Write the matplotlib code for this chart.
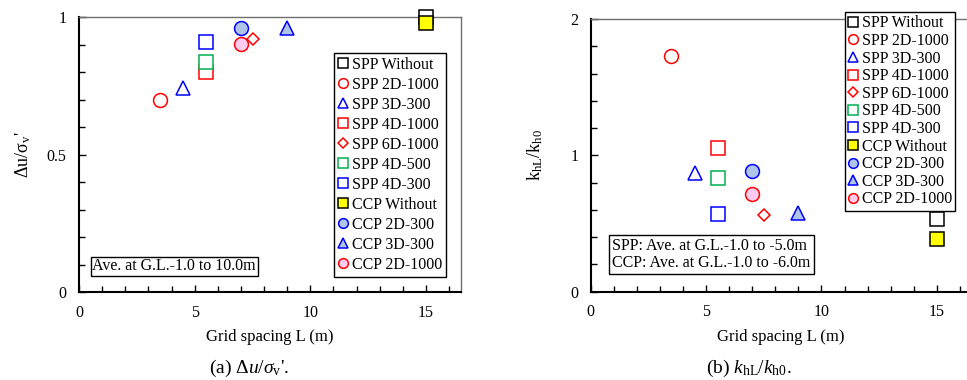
import numpy as np
import matplotlib
matplotlib.use("Agg")
import matplotlib.pyplot as plt
from matplotlib.ticker import MultipleLocator, FormatStrFormatter

plt.rcParams['font.family'] = ['Liberation Serif', 'DejaVu Serif']
plt.rcParams['mathtext.fontset'] = 'custom'
plt.rcParams['mathtext.rm'] = 'Liberation Serif'
plt.rcParams['mathtext.it'] = 'Liberation Serif:italic'
plt.rcParams['mathtext.bf'] = 'Liberation Serif:bold'

# series labels
labels = ["SPP Without", "SPP 2D-1000", "SPP 3D-300", "SPP 4D-1000", "SPP 6D-1000",
          "SPP 4D-500", "SPP 4D-300", "CCP Without", "CCP 2D-300", "CCP 3D-300",
          "CCP 2D-1000"]

# grid spacing L (m)
grid_L = [15, 3.5, 4.5, 5.5, 7.5, 5.5, 5.5, 15, 7, 9, 7]

# (a) du / sigma_v'
du_ratio = [1.00, 0.70, 0.742, 0.80, 0.921, 0.836, 0.91, 0.978, 0.961, 0.96, 0.902]

# (b) khL / kh0
k_ratio = [0.533, 1.73, 0.868, 1.052, 0.563, 0.836, 0.568, 0.387, 0.885, 0.575, 0.714]

# marker styles
markers = ['s', 'o', '^', 's', 'D', 's', 's', 's', 'o', '^', 'o']
edges = ['black', 'red', 'blue', 'red', 'red', '#00b050', 'blue', 'black', 'blue', 'blue', 'red']
faces = ['white', 'white', 'white', 'white', 'white', 'white', 'white', '#ffff00',
         '#b0c4e8', '#b0c4e8', '#ffccf0']
sizes = [10, 10, 10, 10, 6.6, 10, 10, 10, 10, 10, 10]

fig = plt.figure(figsize=(9.67, 3.8), dpi=100)
ax1 = fig.add_axes([79/967, (380-292.3)/380, 381.7/967, 275/380])
ax2 = fig.add_axes([590.7/967, (380-291.7)/380, 380.7/967, 272.7/380])


def style_axes(ax, ymax, ymajor, yminor):
    ax.set_xlim(0, 16.5)
    ax.set_ylim(0, ymax)
    ax.xaxis.set_major_locator(MultipleLocator(5))
    ax.xaxis.set_minor_locator(MultipleLocator(1))
    ax.yaxis.set_major_locator(MultipleLocator(ymajor))
    ax.yaxis.set_minor_locator(MultipleLocator(yminor))
    ax.yaxis.set_major_formatter(FormatStrFormatter('%g'))
    ax.tick_params(which='both', direction='in', top=False, right=False,
                   labelsize=11.5, width=1)
    ax.tick_params(which='major', length=5, pad=9)
    ax.tick_params(which='minor', length=4)
    for s in ['left', 'bottom']:
        ax.spines[s].set_linewidth(1.5)
        ax.spines[s].set_color('black')
    for s in ['top', 'right']:
        ax.spines[s].set_linewidth(1)
        ax.spines[s].set_color('#707070')
    ax.set_xlabel("Grid spacing L (m)", fontsize=12, labelpad=6)


for ax, yvals in [(ax1, du_ratio), (ax2, k_ratio)]:
    for i in range(len(labels)):
        ax.plot(grid_L[i], yvals[i], ls='none', marker=markers[i], ms=sizes[i],
                mec=edges[i], mfc=faces[i], mew=1.1, label=labels[i],
                clip_on=False, zorder=3)

style_axes(ax1, 1, 0.5, 0.1)
style_axes(ax2, 2, 1, 0.2)
ax1.set_ylabel("Δu/σ$_\\mathregular{v}$'", fontsize=13, labelpad=10)
ax2.set_ylabel("k$_\\mathregular{hL}$/k$_\\mathregular{h0}$", fontsize=13, labelpad=18)

leg_kw = dict(fontsize=11.5, markerscale=0.7, handlelength=0.6, handletextpad=0.25,
              borderaxespad=0, fancybox=False, framealpha=1, edgecolor='black')
leg1 = ax1.legend(loc='upper left', bbox_to_anchor=(0.668, 0.871),
                  labelspacing=0.25, borderpad=0.25, **leg_kw)
leg1.get_frame().set_linewidth(1)
leg2 = ax2.legend(loc='upper left', bbox_to_anchor=(0.668, 1.025),
                  labelspacing=0.1, borderpad=0.2, **leg_kw)
leg2.get_frame().set_linewidth(1)

ax1.text(0.035, 0.065, "Ave. at G.L.-1.0 to 10.0m", transform=ax1.transAxes,
         fontsize=11.5, ha='left', va='bottom',
         bbox=dict(boxstyle='square,pad=0.1', fc='white', ec='black', lw=1))
ax2.text(0.056, 0.076, "SPP: Ave. at G.L.-1.0 to -5.0m\nCCP: Ave. at G.L.-1.0 to -6.0m",
         transform=ax2.transAxes, fontsize=11.5, ha='left', va='bottom', linespacing=1.1,
         bbox=dict(boxstyle='square,pad=0.2', fc='white', ec='black', lw=1))

fig.text(249/967, 1 - 368/380, "(a) $\\mathit{Δu/σ}_\\mathrm{v}$'.",
         fontsize=14, ha='center', va='center')
fig.text(749/967, 1 - 368/380, "(b) $k_\\mathrm{hL}/k_\\mathrm{h0}$.",
         fontsize=14, ha='center', va='center')

plt.savefig("out.png", dpi=100, facecolor='white')
